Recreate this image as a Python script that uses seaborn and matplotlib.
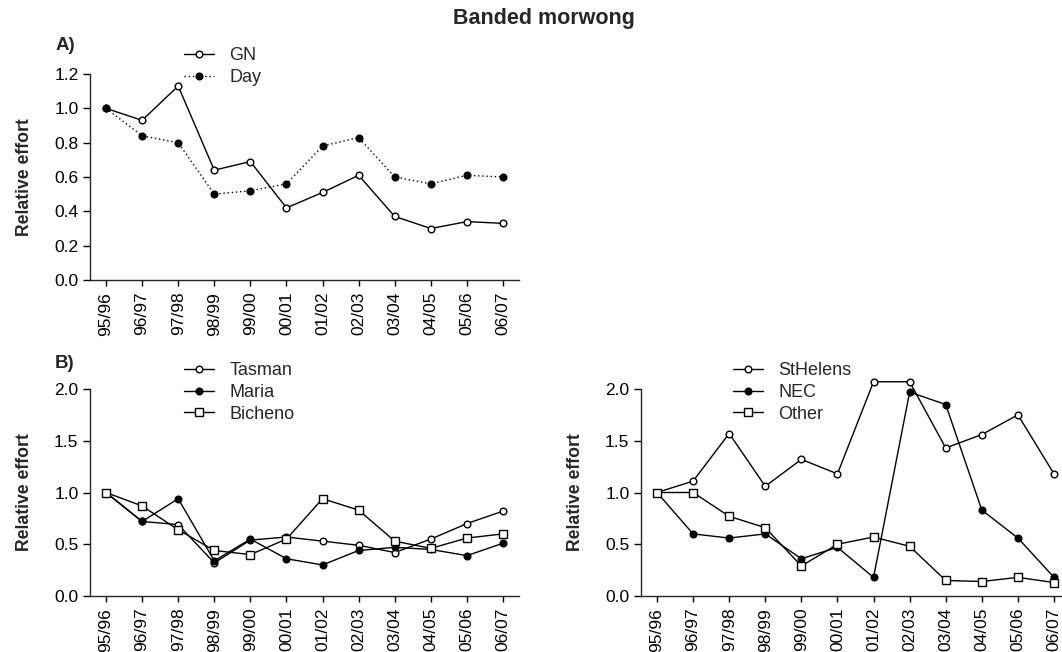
import matplotlib
matplotlib.use("Agg")
import matplotlib.pyplot as plt
import seaborn as sns
import numpy as np

# Fishing seasons
seasons = ["95/96", "96/97", "97/98", "98/99", "99/00", "00/01",
           "01/02", "02/03", "03/04", "04/05", "05/06", "06/07"]

# A) gillnet effort vs day effort, relative to 95/96
gn = [1.00, 0.93, 1.13, 0.64, 0.69, 0.42, 0.51, 0.61, 0.37, 0.30, 0.34, 0.33]
day = [1.00, 0.84, 0.80, 0.50, 0.52, 0.56, 0.78, 0.83, 0.60, 0.56, 0.61, 0.60]

# B) regional effort, relative to 95/96
tasman = [1.00, 0.72, 0.69, 0.32, 0.54, 0.57, 0.53, 0.49, 0.42, 0.55, 0.70, 0.82]
maria = [1.00, 0.72, 0.94, 0.34, 0.55, 0.36, 0.30, 0.44, 0.47, 0.45, 0.39, 0.51]
bicheno = [1.00, 0.87, 0.64, 0.44, 0.40, 0.55, 0.94, 0.83, 0.53, 0.46, 0.56, 0.60]

sthelens = [1.00, 1.11, 1.57, 1.06, 1.32, 1.18, 2.07, 2.07, 1.43, 1.56, 1.75, 1.18]
nec = [1.00, 0.60, 0.56, 0.60, 0.36, 0.47, 0.18, 1.97, 1.85, 0.83, 0.56, 0.18]
other = [1.00, 1.00, 0.77, 0.66, 0.29, 0.50, 0.57, 0.48, 0.15, 0.14, 0.18, 0.13]

sns.set_style("ticks")
plt.rcParams["font.family"] = ["Liberation Sans", "DejaVu Sans"]
plt.rcParams["axes.linewidth"] = 1.0

W, H = 1062, 652
fig = plt.figure(figsize=(W / 100, H / 100), dpi=100)


def px_axes(left, top, right, bottom):
    return fig.add_axes([left / W, 1 - bottom / H, (right - left) / W, (bottom - top) / H])


ax_a = px_axes(90, 74, 519, 280)
ax_b1 = px_axes(90, 389, 519, 596)
ax_b2 = px_axes(641, 389, 1070, 596)

x = np.arange(len(seasons))

OPEN_CIRCLE = dict(marker="o", markerfacecolor="white", markersize=4.8)
FILLED_CIRCLE = dict(marker="o", markerfacecolor="black", markersize=4.8)
OPEN_SQUARE = dict(marker="s", markerfacecolor="white", markersize=5.8)


def draw(ax, values, label, style, linestyle="-"):
    sns.lineplot(x=x, y=values, ax=ax, color="black", linewidth=1.0,
                 linestyle=linestyle, markeredgecolor="black",
                 markeredgewidth=1.0, label=label, clip_on=False, **style)


draw(ax_a, gn, "GN", OPEN_CIRCLE)
draw(ax_a, day, "Day", FILLED_CIRCLE, linestyle=(0, (1, 2)))

draw(ax_b1, tasman, "Tasman", OPEN_CIRCLE)
draw(ax_b1, maria, "Maria", FILLED_CIRCLE)
draw(ax_b1, bicheno, "Bicheno", OPEN_SQUARE)

draw(ax_b2, sthelens, "StHelens", OPEN_CIRCLE)
draw(ax_b2, nec, "NEC", FILLED_CIRCLE)
draw(ax_b2, other, "Other", OPEN_SQUARE)

for ax, ymax, step in [(ax_a, 1.2, 0.2), (ax_b1, 2.0, 0.5), (ax_b2, 2.0, 0.5)]:
    ax.set_xlim(-0.443, len(seasons) - 1 + 0.443)
    ax.set_ylim(0, ymax)
    ax.set_yticks(np.round(np.arange(0, ymax + 1e-9, step), 2))
    ax.yaxis.set_major_formatter(matplotlib.ticker.FormatStrFormatter("%.1f"))
    ax.set_xticks(x)
    ax.set_xticklabels(seasons, rotation=90)
    ax.tick_params(axis="y", direction="out", length=4.8, width=1.0,
                   labelsize=12.5, colors="black", pad=3.5)
    ax.tick_params(axis="x", direction="out", length=4.0, width=1.0,
                   labelsize=12.5, colors="black", pad=4.5)
    ax.set_ylabel("Relative effort", fontsize=12.7, fontweight="bold", labelpad=15)
    ax.set_xlabel("")
    sns.despine(ax=ax)
    ax.get_legend().remove()


def add_legend(ax, left_px, top_px):
    handles, labels = ax.get_legend_handles_labels()
    fig.legend(handles, labels, loc="upper left",
               bbox_to_anchor=(left_px / W, 1 - top_px / H),
               frameon=False, fontsize=13, borderpad=0, borderaxespad=0,
               handlelength=1.67, handletextpad=0.83, labelspacing=0.27)


add_legend(ax_a, 184, 47)
add_legend(ax_b1, 184, 362)
add_legend(ax_b2, 733, 362)

fig.text(65 / W, 1 - 45.5 / H, "A)", fontsize=13.5, fontweight="bold", ha="center", va="center")
fig.text(65 / W, 1 - 363 / H, "B)", fontsize=13.5, fontweight="bold", ha="center", va="center")
fig.text(544 / W, 1 - 24 / H, "Banded morwong", fontsize=15.5, fontweight="bold",
         ha="center", va="baseline")

fig.savefig("out.png", dpi=100)
